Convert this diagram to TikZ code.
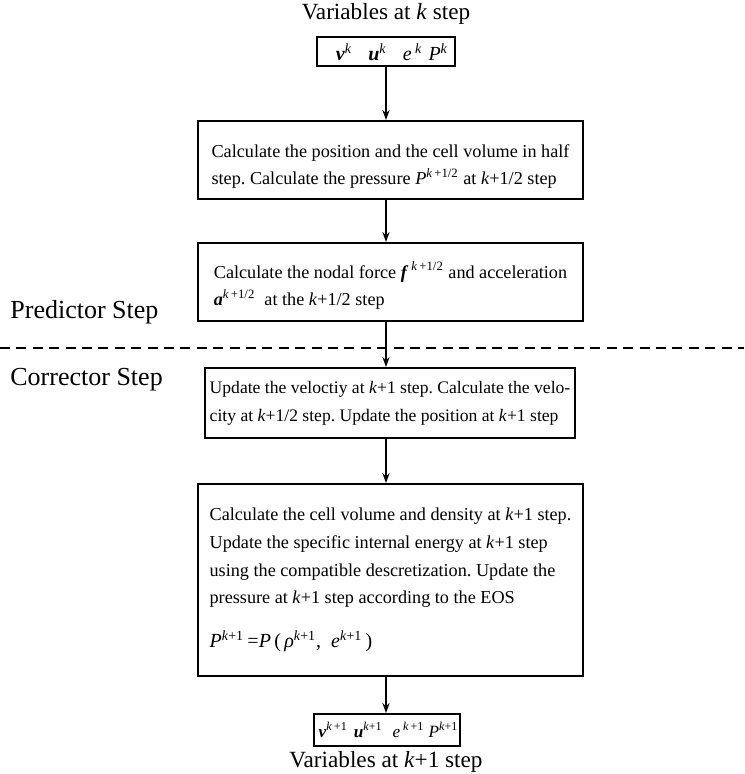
\documentclass[tikz,border=0pt]{standalone}
\usepackage{fontspec}
\setmainfont{Liberation Serif}
\usetikzlibrary{positioning,arrows.meta}
\newcommand{\bv}[1]{\textbf{\textit{#1}}}
\newcommand{\kp}[1]{\textsuperscript{\textit{k}#1}}
\newcommand{\topgap}[1]{\rule{0pt}{#1}}

\begin{document}
\begin{tikzpicture}[x=0.5pt,y=-0.5pt,
    box/.style={draw, line width=1pt, align=left, inner sep=0pt, font=\fontsize{9.1}{13.85}\selectfont\frenchspacing},
    varbox/.style={draw, line width=1pt, inner sep=0pt, font=\fontsize{10}{11}\selectfont},
    steplabel/.style={anchor=west, inner sep=0pt, font=\fontsize{13}{15}\selectfont},
    title/.style={inner sep=0pt, font=\fontsize{11.6}{13}\selectfont},
    flow/.style={-{Stealth[length=5pt,width=3.6pt]}, line width=0.8pt}]
        \useasboundingbox (0,0) rectangle (744,774);

        % variables at step k
        \node[title] at (386,14) (titlek) {Variables at \textit{k} step};
        \node[varbox, minimum width=69pt, minimum height=14.5pt] at (386,52) (vark)
            {\hspace{6pt}\bv{v}\kp{}\hspace{8pt}\bv{u}\kp{}\hspace{8pt}\textit{e}\,\kp{}\hspace{3pt}\textit{P}\kp{}};

        % predictor
        \node[box, minimum width=192.5pt, minimum height=39pt] at (390.5,160) (posstep)
            {\topgap{13pt}Calculate the position and the cell volume in half\\
             step. Calculate the pressure \textit{P}\textsuperscript{\textit{k}\,+1/2} at \textit{k}+1/2 step};
        \node[box, minimum width=192.5pt, minimum height=39pt] at (390.5,282) (forcestep)
            {\topgap{12pt}Calculate the nodal force \bv{f}\,\textsuperscript{\textit{k}\,+1/2} and acceleration\\
             \bv{a}\textsuperscript{\textit{k}\,+1/2}\ \ at the \textit{k}+1/2 step};
        \node[steplabel] at (10,312) (predictor) {Predictor Step};

        % divider
        \coordinate (divl) at (0,348);
        \coordinate (divr) at (744,348);
        \draw[line width=0.8pt, dash pattern=on 5pt off 3.2pt] (divl) -- (divr);

        % corrector
        \node[steplabel] at (10,380) (corrector) {Corrector Step};
        \node[box, minimum width=185pt, minimum height=35pt, font=\fontsize{8.8}{13.85}\selectfont\frenchspacing] at (390,403) (velstep)
            {Update the veloctiy at \textit{k}+1 step. Calculate the velo-\\
             city at \textit{k}+1/2 step. Update the position at \textit{k}+1 step};
        \node[box, minimum width=192.5pt, minimum height=96pt] at (390.5,580) (energystep)
            {Calculate the cell volume and density at \textit{k}+1 step.\\
             Update the specific internal energy at \textit{k}+1 step\\
             using the compatible descretization. Update the\\
             pressure at \textit{k}+1 step according to the EOS\\[8pt]
             {\fontsize{10}{12}\selectfont\textit{P}\kp{+1}\,=\textit{P}\,(\,\textit{ρ}\kp{+1},\ \ \textit{e}\kp{+1}\,)}};

        % variables at step k+1
        \node[varbox, minimum width=73pt, minimum height=16pt, font=\fontsize{8.6}{11}\selectfont] at (387,730) (varkk)
            {\hspace{1.5pt}\bv{v}\kp{\,+1}\hspace{3pt}\bv{u}\kp{+1}\hspace{5pt}\textit{e}\,\kp{\,+1}\hspace{2pt}\textit{P}\kp{+1}};
        \node[title] at (386,762) (titlekk) {Variables at \textit{k}+1 step};

        \draw[flow] (vark.south) -- (vark.south |- posstep.north);
        \draw[flow] (vark.south |- posstep.south) -- (vark.south |- forcestep.north);
        \draw[flow] (vark.south |- forcestep.south) -- (vark.south |- velstep.north);
        \draw[flow] (vark.south |- velstep.south) -- (vark.south |- energystep.north);
        \draw[flow] (vark.south |- energystep.south) -- (vark.south |- varkk.north);

\end{tikzpicture}
\end{document}
